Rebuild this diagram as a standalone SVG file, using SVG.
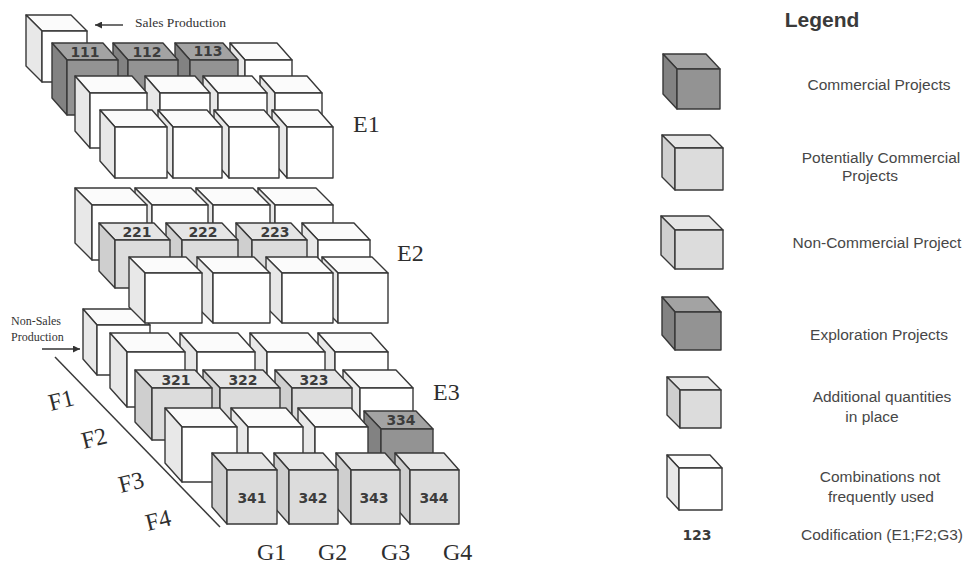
<svg xmlns="http://www.w3.org/2000/svg" width="967" height="567" viewBox="0 0 967 567">
<style>
.c path,.c rect{stroke:#383838;stroke-width:1.4;stroke-linejoin:round}
.wh .t{fill:#fbfbfb}.wh .s{fill:#e8e8e8}.wh .f{fill:#ffffff}
.lt .t{fill:#e5e5e5}.lt .s{fill:#cfcfcf}.lt .f{fill:#dcdcdc}
.dk .t{fill:#a3a3a3}.dk .s{fill:#828282}.dk .f{fill:#939393}
.code{font-family:'DejaVu Sans',Verdana,sans-serif;font-weight:bold;font-size:14px;fill:#3c3c3c;text-anchor:middle}
.big{font-family:'Liberation Serif','Times New Roman',serif;font-size:24px;fill:#2e2e2e}
.lg{font-family:'Liberation Sans',Arial,sans-serif;font-size:15.5px;fill:#474747;text-anchor:middle}
.note{font-family:'Liberation Serif','Times New Roman',serif;fill:#333}
</style>
<defs>
<marker id="ah" viewBox="0 0 10 10" refX="10" refY="5" markerWidth="8" markerHeight="7" markerUnits="userSpaceOnUse" orient="auto"><path d="M0 0L10 5L0 10z" fill="#333"/></marker>
</defs>
<rect width="967" height="567" fill="#ffffff"/>

<!-- ===== E3 layer ===== -->
<g id="e3-nonsales" class="c wh"><path class="t" d="M97 325l-14-16h53l14 16z"/><path class="s" d="M97 325l-14-16v50l14 16z"/><rect class="f" x="97" y="325" width="53" height="50"/></g>
<g id="e3-f1-g4" class="c wh"><path class="t" d="M335 352l-17-19h53l17 19z"/><path class="s" d="M335 352l-17-19v55l17 19z"/><rect class="f" x="335" y="352" width="53" height="55"/></g>
<g id="e3-f1-g3" class="c wh"><path class="t" d="M267 352l-17-19h58l17 19z"/><path class="s" d="M267 352l-17-19v55l17 19z"/><rect class="f" x="267" y="352" width="58" height="55"/></g>
<g id="e3-f1-g2" class="c wh"><path class="t" d="M197 352l-17-19h58l17 19z"/><path class="s" d="M197 352l-17-19v55l17 19z"/><rect class="f" x="197" y="352" width="58" height="55"/></g>
<g id="e3-f1-g1" class="c wh"><path class="t" d="M127 352l-17-19h58l17 19z"/><path class="s" d="M127 352l-17-19v55l17 19z"/><rect class="f" x="127" y="352" width="58" height="55"/></g>

<g id="e3-f2-g4" class="c wh"><path class="t" d="M360 388l-17-18h53l17 18z"/><path class="s" d="M360 388l-17-18v52l17 18z"/><rect class="f" x="360" y="388" width="53" height="52"/></g>
<g id="c323" class="c lt"><path class="t" d="M292 388l-17-18h60l17 18z"/><path class="s" d="M292 388l-17-18v52l17 18z"/><rect class="f" x="292" y="388" width="60" height="52"/><text class="code" x="314" y="385">323</text></g>
<g id="c322" class="c lt"><path class="t" d="M220 388l-17-18h60l17 18z"/><path class="s" d="M220 388l-17-18v52l17 18z"/><rect class="f" x="220" y="388" width="60" height="52"/><text class="code" x="243" y="385">322</text></g>
<g id="c321" class="c lt"><path class="t" d="M152 388l-17-18h60l17 18z"/><path class="s" d="M152 388l-17-18v52l17 18z"/><rect class="f" x="152" y="388" width="60" height="52"/><text class="code" x="176" y="385">321</text></g>

<g id="c334" class="c dk"><path class="t" d="M381 429l-17-18h52l17 18z"/><path class="s" d="M381 429l-17-18v53l17 18z"/><rect class="f" x="381" y="429" width="52" height="53"/><text class="code" x="401" y="425">334</text></g>
<g id="e3-f3-g3" class="c wh"><path class="t" d="M315 427l-17-19h53l17 19z"/><path class="s" d="M315 427l-17-19v55l17 19z"/><rect class="f" x="315" y="427" width="53" height="55"/></g>
<g id="e3-f3-g2" class="c wh"><path class="t" d="M248 427l-17-19h55l17 19z"/><path class="s" d="M248 427l-17-19v55l17 19z"/><rect class="f" x="248" y="427" width="55" height="55"/></g>
<g id="e3-f3-g1" class="c wh"><path class="t" d="M182 427l-17-19h55l17 19z"/><path class="s" d="M182 427l-17-19v55l17 19z"/><rect class="f" x="182" y="427" width="55" height="55"/></g>

<g id="c344" class="c lt"><path class="t" d="M410 470l-15-17h49l15 17z"/><path class="s" d="M410 470l-15-17v54l15 17z"/><rect class="f" x="410" y="470" width="49" height="54"/><text class="code" x="434" y="503">344</text></g>
<g id="c343" class="c lt"><path class="t" d="M351 470l-15-17h49l15 17z"/><path class="s" d="M351 470l-15-17v54l15 17z"/><rect class="f" x="351" y="470" width="49" height="54"/><text class="code" x="374" y="503">343</text></g>
<g id="c342" class="c lt"><path class="t" d="M289 470l-15-17h49l15 17z"/><path class="s" d="M289 470l-15-17v54l15 17z"/><rect class="f" x="289" y="470" width="49" height="54"/><text class="code" x="313" y="503">342</text></g>
<g id="c341" class="c lt"><path class="t" d="M227 470l-15-17h50l15 17z"/><path class="s" d="M227 470l-15-17v54l15 17z"/><rect class="f" x="227" y="470" width="50" height="54"/><text class="code" x="252" y="503">341</text></g>

<!-- ===== E2 layer ===== -->
<g id="e2-a-g4" class="c wh"><path class="t" d="M275 205l-17-17h58l17 17z"/><path class="s" d="M275 205l-17-17v55l17 17z"/><rect class="f" x="275" y="205" width="58" height="55"/></g>
<g id="e2-a-g3" class="c wh"><path class="t" d="M213 205l-17-17h57l17 17z"/><path class="s" d="M213 205l-17-17v55l17 17z"/><rect class="f" x="213" y="205" width="57" height="55"/></g>
<g id="e2-a-g2" class="c wh"><path class="t" d="M152 205l-17-17h56l17 17z"/><path class="s" d="M152 205l-17-17v55l17 17z"/><rect class="f" x="152" y="205" width="56" height="55"/></g>
<g id="e2-a-g1" class="c wh"><path class="t" d="M92 205l-17-17h55l17 17z"/><path class="s" d="M92 205l-17-17v55l17 17z"/><rect class="f" x="92" y="205" width="55" height="55"/></g>

<g id="e2-b-g4" class="c wh"><path class="t" d="M318 240l-16-17h52l16 17z"/><path class="s" d="M318 240l-16-17v48l16 17z"/><rect class="f" x="318" y="240" width="52" height="48"/></g>
<g id="c223" class="c lt"><path class="t" d="M252 240l-16-17h55l16 17z"/><path class="s" d="M252 240l-16-17v48l16 17z"/><rect class="f" x="252" y="240" width="55" height="48"/><text class="code" x="275" y="237">223</text></g>
<g id="c222" class="c lt"><path class="t" d="M182 240l-16-17h56l16 17z"/><path class="s" d="M182 240l-16-17v48l16 17z"/><rect class="f" x="182" y="240" width="56" height="48"/><text class="code" x="203" y="237">222</text></g>
<g id="c221" class="c lt"><path class="t" d="M115 240l-16-17h55l16 17z"/><path class="s" d="M115 240l-16-17v48l16 17z"/><rect class="f" x="115" y="240" width="55" height="48"/><text class="code" x="137" y="237">221</text></g>

<g id="e2-c-g4" class="c wh"><path class="t" d="M338 273l-16-16h50l16 16z"/><path class="s" d="M338 273l-16-16v50l16 16z"/><rect class="f" x="338" y="273" width="50" height="50"/></g>
<g id="e2-c-g3" class="c wh"><path class="t" d="M282 273l-16-16h51l16 16z"/><path class="s" d="M282 273l-16-16v50l16 16z"/><rect class="f" x="282" y="273" width="51" height="50"/></g>
<g id="e2-c-g2" class="c wh"><path class="t" d="M213 273l-16-16h57l16 16z"/><path class="s" d="M213 273l-16-16v50l16 16z"/><rect class="f" x="213" y="273" width="57" height="50"/></g>
<g id="e2-c-g1" class="c wh"><path class="t" d="M145 273l-16-16h57l16 16z"/><path class="s" d="M145 273l-16-16v50l16 16z"/><rect class="f" x="145" y="273" width="57" height="50"/></g>

<!-- ===== E1 layer ===== -->
<g id="e1-sales" class="c wh"><path class="t" d="M42 31l-16-16h45l16 16z"/><path class="s" d="M42 31l-16-16v51l16 16z"/><rect class="f" x="42" y="31" width="45" height="51"/></g>
<g id="e1-b-g4" class="c wh"><path class="t" d="M245 60l-15-17h47l15 17z"/><path class="s" d="M245 60l-15-17v55l15 17z"/><rect class="f" x="245" y="60" width="47" height="55"/></g>
<g id="c113" class="c dk"><path class="t" d="M190 60l-15-17h48l15 17z"/><path class="s" d="M190 60l-15-17v55l15 17z"/><rect class="f" x="190" y="60" width="48" height="55"/><text class="code" x="208" y="56">113</text></g>
<g id="c112" class="c dk"><path class="t" d="M128 60l-15-17h50l15 17z"/><path class="s" d="M128 60l-15-17v55l15 17z"/><rect class="f" x="128" y="60" width="50" height="55"/><text class="code" x="147" y="57">112</text></g>
<g id="c111" class="c dk"><path class="t" d="M67 60l-15-17h51l15 17z"/><path class="s" d="M67 60l-15-17v55l15 17z"/><rect class="f" x="67" y="60" width="51" height="55"/><text class="code" x="85" y="57">111</text></g>

<g id="e1-c-g4" class="c wh"><path class="t" d="M275 93l-15-17h47l15 17z"/><path class="s" d="M275 93l-15-17v55l15 17z"/><rect class="f" x="275" y="93" width="47" height="55"/></g>
<g id="e1-c-g3" class="c wh"><path class="t" d="M218 93l-15-17h49l15 17z"/><path class="s" d="M218 93l-15-17v55l15 17z"/><rect class="f" x="218" y="93" width="49" height="55"/></g>
<g id="e1-c-g2" class="c wh"><path class="t" d="M160 93l-15-17h50l15 17z"/><path class="s" d="M160 93l-15-17v55l15 17z"/><rect class="f" x="160" y="93" width="50" height="55"/></g>
<g id="e1-c-g1" class="c wh"><path class="t" d="M90 93l-15-17h57l15 17z"/><path class="s" d="M90 93l-15-17v55l15 17z"/><rect class="f" x="90" y="93" width="57" height="55"/></g>

<g id="e1-d-g4" class="c wh"><path class="t" d="M287 127l-15-17h46l15 17z"/><path class="s" d="M287 127l-15-17v51l15 17z"/><rect class="f" x="287" y="127" width="46" height="51"/></g>
<g id="e1-d-g3" class="c wh"><path class="t" d="M229 127l-15-17h50l15 17z"/><path class="s" d="M229 127l-15-17v51l15 17z"/><rect class="f" x="229" y="127" width="50" height="51"/></g>
<g id="e1-d-g2" class="c wh"><path class="t" d="M173 127l-15-17h49l15 17z"/><path class="s" d="M173 127l-15-17v51l15 17z"/><rect class="f" x="173" y="127" width="49" height="51"/></g>
<g id="e1-d-g1" class="c wh"><path class="t" d="M115 127l-15-17h52l15 17z"/><path class="s" d="M115 127l-15-17v51l15 17z"/><rect class="f" x="115" y="127" width="52" height="51"/></g>

<!-- axis line -->
<g id="axis-f"><line x1="55" y1="357" x2="220" y2="527" stroke="#3a3a3a" stroke-width="1.5"/></g>

<!-- labels -->
<g id="layer-labels">
<text class="big" x="353" y="132">E1</text>
<text class="big" x="397" y="261">E2</text>
<text class="big" x="433" y="400">E3</text>
</g>
<g id="g-labels">
<text class="big" x="257" y="560">G1</text>
<text class="big" x="318" y="560">G2</text>
<text class="big" x="381" y="560">G3</text>
<text class="big" x="443" y="560">G4</text>
</g>
<g id="f-labels">
<text class="big" font-size="23" text-anchor="middle" transform="translate(63,408) rotate(-14)">F1</text>
<text class="big" font-size="23" text-anchor="middle" transform="translate(96,446) rotate(-14)">F2</text>
<text class="big" font-size="23" text-anchor="middle" transform="translate(133,490) rotate(-14)">F3</text>
<text class="big" font-size="23" text-anchor="middle" transform="translate(160,528) rotate(-14)">F4</text>
</g>

<g id="note-sales"><text class="note" x="135" y="27" font-size="13.5">Sales Production</text></g>
<g id="note-nonsales"><text class="note" x="11" y="325" font-size="12">Non-Sales</text><text class="note" x="11" y="341" font-size="12">Production</text></g>

<g id="connectors" stroke="#333" stroke-width="1.4" fill="none">
<line x1="123" y1="25" x2="95" y2="25" marker-end="url(#ah)"/>
<line x1="42" y1="349" x2="80" y2="349" marker-end="url(#ah)"/>
</g>

<!-- ===== Legend ===== -->
<g id="legend-title"><text x="822" y="27" font-family="'Liberation Sans',Arial,sans-serif" font-weight="bold" font-size="21" text-anchor="middle" fill="#3a3a3a">Legend</text></g>
<g id="legend-commercial"><g class="c dk"><path class="t" d="M677 69l-14-15h43l14 15z"/><path class="s" d="M677 69l-14-15v40l14 15z"/><rect class="f" x="677" y="69" width="43" height="40"/></g><text class="lg" x="879" y="90">Commercial Projects</text></g>
<g id="legend-potential"><g class="c lt"><path class="t" d="M675 148l-13-13h48l13 13z"/><path class="s" d="M675 148l-13-13v42l13 13z"/><rect class="f" x="675" y="148" width="48" height="42"/></g><text class="lg" x="881" y="163">Potentially Commercial</text><text class="lg" x="870" y="181">Projects</text></g>
<g id="legend-noncommercial"><g class="c lt"><path class="t" d="M675 230l-14-14h48l14 14z"/><path class="s" d="M675 230l-14-14v39l14 14z"/><rect class="f" x="675" y="230" width="48" height="39"/></g><text class="lg" x="877" y="248">Non-Commercial Project</text></g>
<g id="legend-exploration"><g class="c dk"><path class="t" d="M675 312l-13-15h46l13 15z"/><path class="s" d="M675 312l-13-15v38l13 15z"/><rect class="f" x="675" y="312" width="46" height="38"/></g><text class="lg" x="879" y="340">Exploration Projects</text></g>
<g id="legend-additional"><g class="c lt"><path class="t" d="M680 390l-13-13h41l13 13z"/><path class="s" d="M680 390l-13-13v38l13 13z"/><rect class="f" x="680" y="390" width="41" height="38"/></g><text class="lg" x="882" y="402">Additional quantities</text><text class="lg" x="872" y="422">in place</text></g>
<g id="legend-combinations"><g class="c wh"><path class="t" d="M679 468l-12-13h43l12 13z"/><path class="s" d="M679 468l-12-13v42l12 13z"/><rect class="f" x="679" y="468" width="43" height="42"/></g><text class="lg" x="880" y="482">Combinations not</text><text class="lg" x="881" y="502">frequently used</text></g>
<g id="legend-code"><text x="697" y="540" font-family="'DejaVu Sans',Verdana,sans-serif" font-weight="bold" font-size="14" text-anchor="middle" fill="#3a3a3a">123</text><text class="lg" x="882" y="540">Codification (E1;F2;G3)</text></g>
</svg>
